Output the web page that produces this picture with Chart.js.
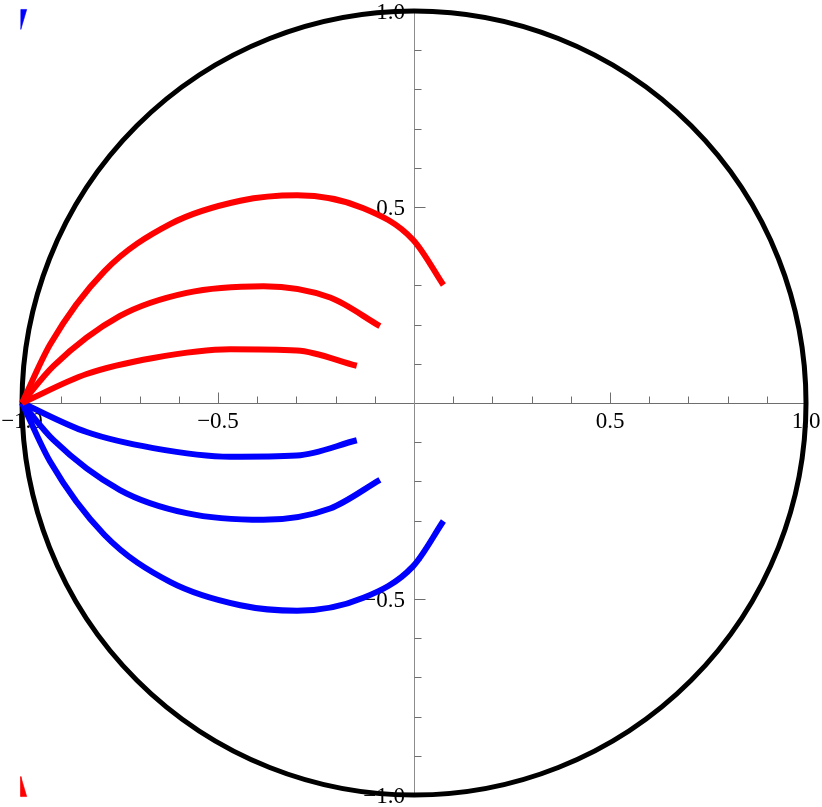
<!DOCTYPE html>
<html>
<head>
<meta charset="utf-8">
<script src="https://cdn.jsdelivr.net/npm/chart.js@4/dist/chart.umd.min.js"></script>
<style>
  html, body { margin: 0; padding: 0; background: #ffffff; }
  canvas { display: block; }
</style>
</head>
<body>
<canvas id="c" width="822" height="807"></canvas>
<script>
// ---- data ----
const outerX      = [-1, -0.928, -0.790, -0.621, -0.443, -0.298, -0.129, -0.002, 0.075];
const outerRedY   = [0, 0.150, 0.336, 0.457, 0.516, 0.530, 0.497, 0.416, 0.301];
const outerBlueY  = [0, -0.150, -0.336, -0.457, -0.516, -0.530, -0.497, -0.416, -0.301];

const middleX     = [-1, -0.920, -0.750, -0.580, -0.384, -0.214, -0.087];
const middleRedY  = [0, 0.094, 0.222, 0.281, 0.298, 0.269, 0.196];
const middleBlueY = [0, -0.094, -0.222, -0.281, -0.298, -0.269, -0.196];

const innerX      = [-1, -0.835, -0.665, -0.469, -0.299, -0.146];
const innerRedY   = [0, 0.074, 0.115, 0.137, 0.134, 0.095];
const innerBlueY  = [0, -0.074, -0.115, -0.137, -0.134, -0.095];

// small wedge marks in the left corners
const blueWedgeX  = [-1.003, -0.988, -1.003, -1.003];
const blueWedgeY  = [1.004, 1.004, 0.953, 1.004];
const redWedgeX   = [-1.003, -1.003, -0.988, -1.003];
const redWedgeY   = [-0.953, -1.004, -1.004, -0.953];

// axes / ticks
const majorTicks  = [-1, -0.5, 0.5, 1];
const xTickLabels = ['\u22121.0', '\u22120.5', '0.5', '1.0'];
const yTickLabels = ['\u22121.0', '\u22120.5', '0.5', '1.0'];
const minorTicks  = [-0.9, -0.8, -0.7, -0.6, -0.4, -0.3, -0.2, -0.1, 0.1, 0.2, 0.3, 0.4, 0.6, 0.7, 0.8, 0.9];
const circleRadius = 1;
// plot range (the view extends slightly beyond the unit square)
const xRange = [-1.0561, 1.0408];
const yRange = [-1.0306, 1.0281];

function pts(xs, ys) { return xs.map((x, i) => ({ x: x, y: ys[i] })); }

function curve(xs, ys, color) {
  return {
    data: pts(xs, ys), borderColor: color, backgroundColor: color, borderWidth: 6,
    pointRadius: 0, cubicInterpolationMode: 'monotone', fill: false, clip: false,
    borderCapStyle: 'butt', borderJoinStyle: 'round'
  };
}
function wedge(xs, ys, color) {
  return {
    data: pts(xs, ys), borderColor: color, borderWidth: 0.6,
    backgroundColor: color, pointRadius: 0, tension: 0, fill: 'shape', clip: false
  };
}

const axesPlugin = {
  id: 'centerAxes',
  beforeDatasetsDraw(chart) {
    const ctx = chart.ctx;
    const xs = chart.scales.x, ys = chart.scales.y;
    const x0 = xs.getPixelForValue(0), y0 = ys.getPixelForValue(0);
    const ax = Math.round(x0) + 0.5, ay = Math.round(y0) + 0.5;
    ctx.save();
    ctx.strokeStyle = '#6e6e6e';
    ctx.lineWidth = 1;
    ctx.beginPath();
    ctx.moveTo(xs.getPixelForValue(-1), ay);
    ctx.lineTo(xs.getPixelForValue(1), ay);
    ctx.stroke();
    ctx.strokeStyle = '#8c8c8c';
    ctx.beginPath();
    ctx.moveTo(ax, ys.getPixelForValue(1));
    ctx.lineTo(ax, ys.getPixelForValue(-1));
    ctx.stroke();
    ctx.strokeStyle = '#6e6e6e';
    ctx.beginPath();
    majorTicks.forEach(v => {
      const px = Math.round(xs.getPixelForValue(v)) + 0.5;
      ctx.moveTo(px, ay); ctx.lineTo(px, ay - 11);
      const py = Math.round(ys.getPixelForValue(v)) + 0.5;
      ctx.moveTo(ax, py); ctx.lineTo(ax + 11, py);
    });
    minorTicks.forEach(v => {
      const px = Math.round(xs.getPixelForValue(v)) + 0.5;
      ctx.moveTo(px, ay); ctx.lineTo(px, ay - 7);
      const py = Math.round(ys.getPixelForValue(v)) + 0.5;
      ctx.moveTo(ax, py); ctx.lineTo(ax + 7, py);
    });
    ctx.stroke();
    ctx.fillStyle = '#000000';
    ctx.font = '23px "Liberation Serif"';
    ctx.textBaseline = 'alphabetic';
    ctx.textAlign = 'center';
    majorTicks.forEach((v, i) => {
      ctx.fillText(xTickLabels[i], xs.getPixelForValue(v), y0 + 25);
    });
    ctx.textAlign = 'right';
    majorTicks.forEach((v, i) => {
      ctx.fillText(yTickLabels[i], x0 - 9, ys.getPixelForValue(v) + 7.5);
    });
    const rx = xs.getPixelForValue(circleRadius) - x0;
    const ry = y0 - ys.getPixelForValue(circleRadius);
    ctx.strokeStyle = '#000000';
    ctx.lineWidth = 5;
    ctx.beginPath();
    ctx.ellipse(x0, y0, rx, ry, 0, 0, Math.PI * 2);
    ctx.stroke();
    ctx.restore();
  }
};

new Chart(document.getElementById('c'), {
  type: 'line',
  data: {
    datasets: [
      curve(outerX, outerRedY, '#ff0000'),
      curve(middleX, middleRedY, '#ff0000'),
      curve(innerX, innerRedY, '#ff0000'),
      curve(outerX, outerBlueY, '#0000ff'),
      curve(middleX, middleBlueY, '#0000ff'),
      curve(innerX, innerBlueY, '#0000ff'),
      wedge(blueWedgeX, blueWedgeY, '#0000ff'),
      wedge(redWedgeX, redWedgeY, '#ff0000')
    ]
  },
  options: {
    responsive: false,
    animation: false,
    devicePixelRatio: 1,
    layout: { padding: 0 },
    scales: {
      x: { type: 'linear', min: xRange[0], max: xRange[1], display: false },
      y: { type: 'linear', min: yRange[0], max: yRange[1], display: false }
    },
    plugins: { legend: { display: false }, tooltip: { enabled: false } }
  },
  plugins: [axesPlugin]
});
</script>
</body>
</html>
